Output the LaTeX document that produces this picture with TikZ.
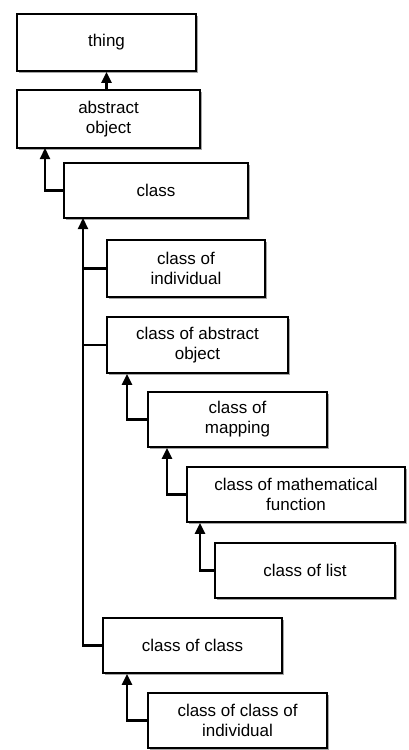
\documentclass[tikz,border=0pt]{standalone}
\usepackage{fontspec}
\setmainfont{Liberation Sans}
\usepackage{tikz}
\usetikzlibrary{arrows.meta,positioning,shadows}

\begin{document}
\begin{tikzpicture}[x=1pt,y=-1pt,
    box/.style={draw=black,line width=1.8pt,fill=white,align=center,
                inner sep=0pt,minimum height=55pt,
                font=\fontsize{17}{20}\selectfont,
                drop shadow={shadow xshift=2pt,shadow yshift=-2pt,
                             fill=gray!70,opacity=1}},
    link/.style={line width=2.2pt,black},
    isa/.style={link,-{Triangle[length=11pt,width=10pt]}}]
        \useasboundingbox (0,0) rectangle (408,750);
        % top of the hierarchy
        \node[box,minimum width=179pt,minimum height=57pt]
              (thing) at (106.5,42.5) {thing};
        \node[box,minimum width=183pt,minimum height=58pt]
              (absobj) at (108.5,119) {abstract\\object};
        \node[box,minimum width=184pt]
              (cls) at (156,190.5) {class};
        % kinds of class
        \node[box,minimum width=158pt,minimum height=57pt]
              (clsind) at (186,268.5) {class of\\individual};
        \node[box,minimum width=181pt,minimum height=56pt]
              (clsabs) at (197.5,345) {class of abstract\\object};
        \node[box,minimum width=179pt]
              (clsmap) at (237.5,419.5) {class of\\mapping};
        \node[box,minimum width=218pt]
              (clsfun) at (296,494.5) {class of mathematical\\function};
        \node[box,minimum width=180pt]
              (clslist) at (305,570.5) {class of list};
        \node[box,minimum width=179pt]
              (clscls) at (192.5,645.5) {class of class};
        \node[box,minimum width=179pt]
              (clsclsind) at (237.5,720.5) {class of class of\\individual};
        % trunk under class
        \coordinate (trunk) at (83,218);
        \coordinate (absfoot) at (45,148);
        % connectors
        \draw[isa] (absobj.north -| thing.south) -- (thing.south);
        \draw[isa] (cls.west) -| (absfoot);
        \draw[isa] (clscls.west) -| (trunk);
        \draw[link] (clsind.west) -- (clsind.west -| trunk);
        \draw[link] (clsabs.west) -- (clsabs.west -| trunk);
        \draw[isa] (clsmap.west) -| ([xshift=-70.5pt]clsabs.south);
        \draw[isa] (clsfun.west) -| ([xshift=-70.5pt]clsmap.south);
        \draw[isa] (clslist.west) -| ([xshift=-96pt]clsfun.south);
        \draw[isa] (clsclsind.west) -| ([xshift=-65.5pt]clscls.south);
      \end{tikzpicture}
\end{document}
